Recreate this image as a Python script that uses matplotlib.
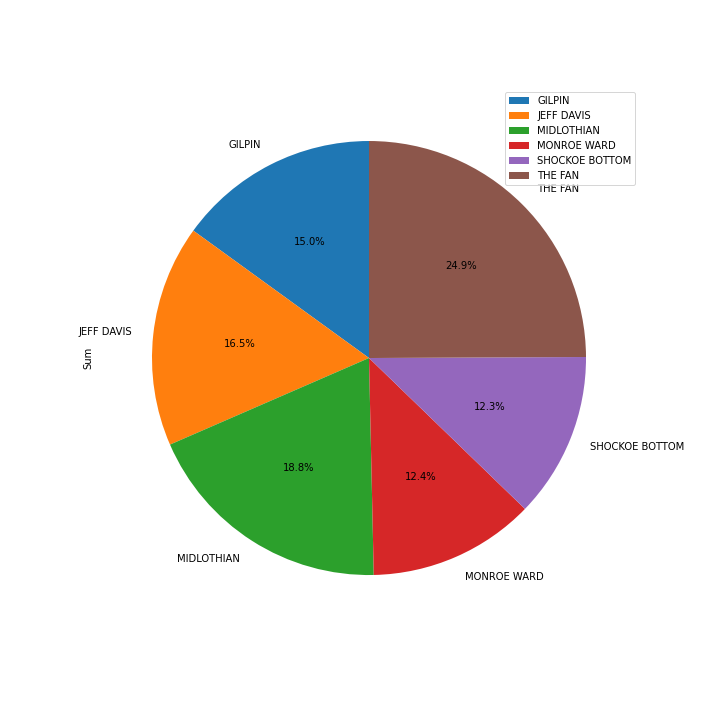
import matplotlib
matplotlib.use("Agg")
import matplotlib.pyplot as plt

# neighbourhood totals (read as shares from the reference)
neighborhoods = ['GILPIN', 'JEFF DAVIS', 'MIDLOTHIAN', 'MONROE WARD', 'SHOCKOE BOTTOM', 'THE FAN']
sums = [15.0, 16.5, 18.8, 12.4, 12.3, 24.9]

colors = ['#1f77b4', '#ff7f0e', '#2ca02c', '#d62728', '#9467bd', '#8c564b']

fig, ax = plt.subplots(figsize=(10, 10), dpi=72)
ax.set_position([0.125, 0.126, 0.775, 0.7535])
wedges, texts, autotexts = ax.pie(sums, labels=neighborhoods, colors=colors,
                                  autopct='%.1f%%', startangle=90)
ax.set_ylabel('Sum')
ax.legend(wedges, neighborhoods, loc='upper right')

plt.savefig('out.png', dpi=72)
